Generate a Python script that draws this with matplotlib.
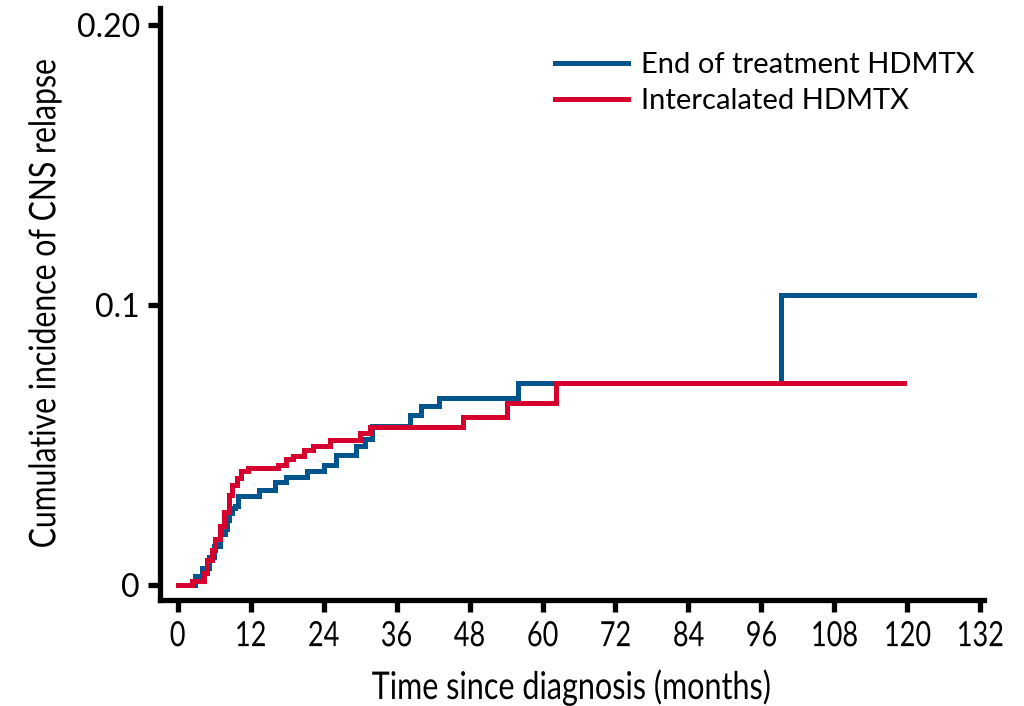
"""Cumulative incidence of CNS relapse by HDMTX schedule (step curves)."""

import matplotlib
matplotlib.use("Agg")
import matplotlib.pyplot as plt
from matplotlib.patheffects import AbstractPathEffect
from matplotlib.transforms import Affine2D

# Step times (months) and cumulative incidence.
eot_months = [0, 2.8, 4.0, 5.2, 6.0, 7.0, 7.8, 8.1, 8.5, 8.9, 9.4, 10.0,
              13.3, 16.0, 17.9, 21.2, 24.0, 26.1, 29.4, 30.8, 31.9, 38.2,
              40.1, 42.9, 56.0, 99.2, 130.9]
eot_cuminc = [0, 0.003, 0.006, 0.010, 0.014, 0.018, 0.020, 0.023, 0.0256,
              0.0274, 0.028, 0.0318, 0.0339, 0.0369, 0.0387, 0.0405, 0.0429,
              0.0464, 0.0497, 0.052, 0.0568, 0.0607, 0.0637, 0.0667, 0.072,
              0.1036, 0.1036]

ic_months = [0, 2.3, 4.4, 4.9, 5.6, 6.1, 7.0, 7.6, 8.5, 8.9, 9.8, 10.5, 11.5,
             16.5, 17.9, 18.9, 20.8, 22.3, 25.0, 30.0, 31.6, 47.0, 54.1,
             62.3, 119.4]
ic_cuminc = [0, 0.0014, 0.0042, 0.0089, 0.0125, 0.0164, 0.0212, 0.0262,
             0.032, 0.0357, 0.038, 0.0405, 0.0417, 0.0429, 0.0449, 0.046,
             0.048, 0.0496, 0.0518, 0.0542, 0.0565, 0.0601, 0.0649, 0.072,
             0.072]

series_labels = ["End of treatment HDMTX", "Intercalated HDMTX"]
x_ticks = list(range(0, 133, 12))
y_ticks = [0, 0.1, 0.20]
y_ticklabels = ["0", "0.1", "0.20"]

BLUE = "#00568C"
RED = "#D6002E"
FONT = ["Lato", "DejaVu Sans"]


class Condensed(AbstractPathEffect):
    """Squeeze glyphs along the text direction, keeping the text centre fixed."""

    def __init__(self, factor=0.8):
        super().__init__()
        self.factor = factor

    def draw_path(self, renderer, gc, tpath, affine, rgbFace=None):
        ext = tpath.get_extents()
        cx = (ext.x0 + ext.x1) / 2
        squeeze = Affine2D().translate(-cx, 0).scale(self.factor, 1).translate(cx, 0)
        renderer.draw_path(gc, tpath, squeeze + affine, rgbFace)


fig = plt.figure(figsize=(10.24, 7.06), dpi=100)
ax = fig.add_axes([160 / 1024, 1 - 600 / 706, (984 - 160) / 1024, (600 - 8) / 706])

ax.step(eot_months, eot_cuminc, where="post", color=BLUE, lw=3.6,
        label=series_labels[0], solid_joinstyle="miter")
ax.step(ic_months, ic_cuminc, where="post", color=RED, lw=3.6,
        label=series_labels[1], solid_joinstyle="miter")

ax.set_xlim(-2.9, 132.6)
ax.set_ylim(-0.0054, 0.206)

for side in ("top", "right"):
    ax.spines[side].set_visible(False)
for side in ("left", "bottom"):
    ax.spines[side].set_linewidth(3.8)

ax.set_xticks(x_ticks)
ax.set_xticklabels([str(t) for t in x_ticks], family=FONT, fontsize=25)
for lbl in ax.get_xticklabels():
    lbl.set_path_effects([Condensed(0.78)])
ax.set_yticks(y_ticks)
ax.set_yticklabels(y_ticklabels, family=FONT, fontsize=23)
ax.tick_params(direction="out", length=8.5, width=3.8, pad=6)

xl = ax.set_xlabel("Time since diagnosis (months)", family=FONT, fontsize=27.5, labelpad=12)
yl = ax.set_ylabel("Cumulative incidence of CNS relapse", family=FONT, fontsize=26.5, labelpad=11)
xl.set_path_effects([Condensed(0.8)])
yl.set_path_effects([Condensed(0.82)])

leg = ax.legend(loc="upper left", bbox_to_anchor=(555 / 1024, 1 - 52 / 706),
                bbox_transform=fig.transFigure, frameon=False, borderpad=0,
                borderaxespad=0, handlelength=2.5, handletextpad=0.45,
                labelspacing=0.35, prop={"family": FONT, "size": 21})

fig.savefig("out.png", dpi=100)
